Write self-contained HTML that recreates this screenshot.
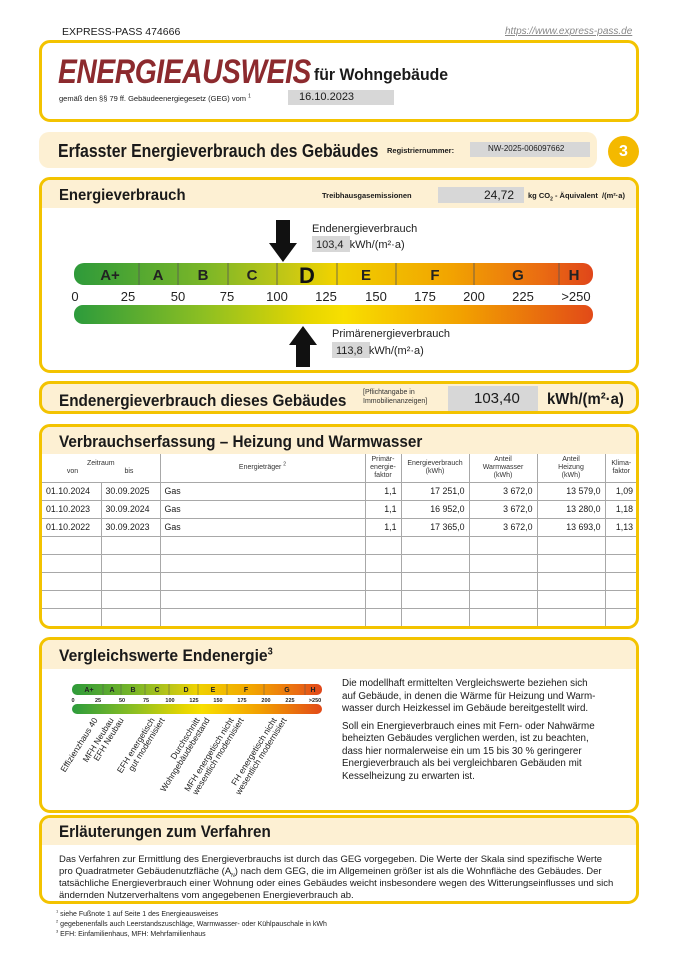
<!DOCTYPE html>
<html><head><meta charset="utf-8">
<style>
*{margin:0;padding:0;box-sizing:border-box}
body{width:679px;height:960px;background:#fff;font-family:"Liberation Sans",Arial,sans-serif;color:#1a1a1a;position:relative;overflow:hidden}
.a{position:absolute;white-space:nowrap}
.box{position:absolute;border:3px solid #f3c300;border-radius:11px;background:#fff;overflow:hidden}
.band{position:absolute;left:0;right:0;top:0;background:#fdf0d3}
.h{font-weight:bold;font-size:17px;transform:scaleX(0.93);transform-origin:left top}
.gray{position:absolute;background:#d7d7d7}
table{border-collapse:collapse;position:absolute;left:0;top:27px;width:595px;font-size:8.8px}
td{border:1px solid #a8a8a8;height:18px;padding:0 4px}
td.r{text-align:right}
.hd td{font-size:7px;text-align:center;vertical-align:middle;line-height:8px;color:#333}
sub,sup{line-height:0}
</style></head><body>
<div class="a" style="left:62px;top:26px;font-size:10.5px">EXPRESS-PASS 474666</div>
<div class="a" style="left:505px;top:26px;font-size:10px;color:#888;font-style:italic;text-decoration:underline">https://www.express-pass.de</div>

<div class="box" style="left:39px;top:40px;width:600px;height:82px">
 <div class="a" style="left:16px;top:10px;font-size:34px;font-weight:bold;font-style:italic;color:#8c2a2e;transform:scaleX(0.83);transform-origin:left top;letter-spacing:-0.5px">ENERGIEAUSWEIS</div>
 <div class="a" style="left:272px;top:22px;font-size:17px;font-weight:bold;transform:scaleX(0.93);transform-origin:left top">für Wohngebäude</div>
 <div class="a" style="left:17px;top:51px;font-size:7.5px">gemäß den §§ 79 ff. Gebäudeenergiegesetz (GEG) vom <sup style="font-size:5px">1</sup></div>
 <div class="gray" style="left:246px;top:47px;width:106px;height:15px"></div>
 <div class="a" style="left:257px;top:48px;font-size:11px">16.10.2023</div>
</div>

<div class="a" style="left:39px;top:132px;width:558px;height:36px;background:#fdf0d3;border-radius:10px"></div>
<div class="a h" style="left:58px;top:141px;font-size:18px;transform:scaleX(0.88)">Erfasster Energieverbrauch des Gebäudes</div>
<div class="a" style="left:387px;top:146px;font-size:7.5px;font-weight:bold">Registriernummer:</div>
<div class="gray" style="left:470px;top:142px;width:120px;height:15px"></div>
<div class="a" style="left:488px;top:144px;font-size:8px">NW-2025-006097662</div>
<div class="a" style="left:608px;top:136px;width:31px;height:31px;border-radius:50%;background:#f4b900;color:#fff;font-weight:bold;font-size:16px;text-align:center;line-height:31px">3</div>

<div class="box" style="left:39px;top:177px;width:600px;height:196px">
 <div class="band" style="height:28px"></div>
 <div class="a h" style="left:17px;top:7px;font-size:16px">Energieverbrauch</div>
 <div class="a" style="left:280px;top:11px;font-size:7.5px;font-weight:bold">Treibhausgasemissionen</div>
 <div class="gray" style="left:396px;top:7px;width:86px;height:16px"></div>
 <div class="a" style="left:442px;top:8px;font-size:12px">24,72</div>
 <div class="a" style="left:486px;top:11px;font-size:7.5px;font-weight:bold">kg CO<sub style="font-size:5px">2</sub> - Äquivalent &nbsp;/(m²·a)</div>
</div>
<svg class="a" style="left:0;top:0" width="679" height="420">
 <defs>
  <linearGradient id="g" x1="0" x2="1">
   <stop offset="0" stop-color="#2c9b3c"/><stop offset="0.25" stop-color="#8dbf22"/><stop offset="0.45" stop-color="#e6d600"/><stop offset="0.52" stop-color="#f8df00"/><stop offset="0.75" stop-color="#f2a000"/><stop offset="1" stop-color="#e24a18"/>
  </linearGradient>
  <linearGradient id="g2" x1="0" x2="1">
   <stop offset="0" stop-color="#2e9a3a"/><stop offset="0.25" stop-color="#7ab628"/><stop offset="0.42" stop-color="#c8c814"/><stop offset="0.5" stop-color="#f0d200"/><stop offset="0.72" stop-color="#f2a500"/><stop offset="0.9" stop-color="#ea6c12"/><stop offset="1" stop-color="#e0461a"/>
  </linearGradient>
 </defs>
 <rect x="74" y="263" width="519" height="22" rx="10" fill="url(#g2)"/>
 <g stroke="#555" stroke-width="0.8">
  <line x1="139" y1="263" x2="139" y2="285"/><line x1="178" y1="263" x2="178" y2="285"/><line x1="228" y1="263" x2="228" y2="285"/><line x1="277" y1="263" x2="277" y2="285"/><line x1="337" y1="263" x2="337" y2="285"/><line x1="396" y1="263" x2="396" y2="285"/><line x1="474" y1="263" x2="474" y2="285"/><line x1="559" y1="263" x2="559" y2="285"/>
 </g>
 <g font-family="Liberation Sans" font-weight="bold" font-size="15" fill="#222" text-anchor="middle">
  <text x="110" y="280">A+</text><text x="158" y="280">A</text><text x="203" y="280">B</text><text x="252" y="280">C</text><text x="307" y="283" font-size="22" fill="#111">D</text><text x="366" y="280">E</text><text x="435" y="280">F</text><text x="518" y="280">G</text><text x="574" y="280">H</text>
 </g>
 <g font-family="Liberation Sans" font-size="13" fill="#222" text-anchor="middle">
  <text x="75" y="301">0</text><text x="128" y="301">25</text><text x="178" y="301">50</text><text x="227" y="301">75</text><text x="277" y="301">100</text><text x="326" y="301">125</text><text x="376" y="301">150</text><text x="425" y="301">175</text><text x="474" y="301">200</text><text x="523" y="301">225</text><text x="576" y="301">&gt;250</text>
 </g>
 <rect x="74" y="305" width="519" height="19" rx="9" fill="url(#g)"/>
 <polygon points="276,220 290,220 290,243 297,243 283,262 269,243 276,243" fill="#111"/>
 <polygon points="296,367 310,367 310,345 317,345 303,326 289,345 296,345" fill="#111"/>
 <text x="312" y="232" font-family="Liberation Sans" font-size="11" fill="#222">Endenergieverbrauch</text>
 <rect x="312" y="236" width="38" height="16" fill="#d7d7d7"/>
 <text x="316" y="248" font-family="Liberation Sans" font-size="11" fill="#222">103,4 &#160;kWh/(m²·a)</text>
 <text x="332" y="337" font-family="Liberation Sans" font-size="11" fill="#222">Primärenergieverbrauch</text>
 <rect x="332" y="342" width="38" height="16" fill="#d7d7d7"/>
 <text x="336" y="354" font-family="Liberation Sans" font-size="11" fill="#222">113,8 &#160;kWh/(m²·a)</text>
</svg>

<div class="box" style="left:39px;top:381px;width:600px;height:33px;background:#fdf0d3">
 <div class="a h" style="left:17px;top:7px;font-size:17px;transform:scaleX(0.9)">Endenergieverbrauch dieses Gebäudes</div>
 <div class="a" style="left:321px;top:4px;font-size:7px;line-height:9px;color:#333">[Pflichtangabe in<br>Immobilienanzeigen]</div>
 <div class="gray" style="left:406px;top:2px;width:90px;height:25px"></div>
 <div class="a" style="left:432px;top:6px;font-size:15px">103,40</div>
 <div class="a h" style="left:505px;top:7px;font-size:16px">kWh/(m²·a)</div>
</div>

<div class="box" style="left:39px;top:424px;width:600px;height:205px">
 <div class="band" style="height:27px"></div>
 <div class="a h" style="left:17px;top:5px;font-size:17px;transform:scaleX(0.9)">Verbrauchserfassung – Heizung und Warmwasser</div>
 <table>
  <colgroup><col style="width:59px"><col style="width:59px"><col style="width:205px"><col style="width:36px"><col style="width:68px"><col style="width:68px"><col style="width:68px"><col style="width:32px"></colgroup>
  <tr class="hd"><td colspan="2" style="height:28px;border-left:none;border-top:none;padding:0">Zeitraum<br><span style="display:inline-block;width:48%">von</span><span style="display:inline-block;width:48%">bis</span></td><td style="border-top:none">Energieträger <sup style="font-size:5px">2</sup></td><td style="border-top:none;padding:0">Primär-<br>energie-<br>faktor</td><td style="border-top:none;padding:0">Energieverbrauch<br>(kWh)</td><td style="border-top:none;padding:0">Anteil<br>Warmwasser<br>(kWh)</td><td style="border-top:none;padding:0">Anteil<br>Heizung<br>(kWh)</td><td style="border-top:none;border-right:none;padding:0">Klima-<br>faktor</td></tr>
  <tr><td style="border-left:none">01.10.2024</td><td>30.09.2025</td><td>Gas</td><td class="r">1,1</td><td class="r">17 251,0</td><td class="r">3 672,0</td><td class="r">13 579,0</td><td class="r" style="border-right:none">1,09</td></tr>
  <tr><td style="border-left:none">01.10.2023</td><td>30.09.2024</td><td>Gas</td><td class="r">1,1</td><td class="r">16 952,0</td><td class="r">3 672,0</td><td class="r">13 280,0</td><td class="r" style="border-right:none">1,18</td></tr>
  <tr><td style="border-left:none">01.10.2022</td><td>30.09.2023</td><td>Gas</td><td class="r">1,1</td><td class="r">17 365,0</td><td class="r">3 672,0</td><td class="r">13 693,0</td><td class="r" style="border-right:none">1,13</td></tr>
  <tr><td style="border-left:none"></td><td></td><td></td><td></td><td></td><td></td><td></td><td style="border-right:none"></td></tr>
  <tr><td style="border-left:none"></td><td></td><td></td><td></td><td></td><td></td><td></td><td style="border-right:none"></td></tr>
  <tr><td style="border-left:none"></td><td></td><td></td><td></td><td></td><td></td><td></td><td style="border-right:none"></td></tr>
  <tr><td style="border-left:none"></td><td></td><td></td><td></td><td></td><td></td><td></td><td style="border-right:none"></td></tr>
  <tr><td style="border-left:none;border-bottom:none"></td><td style="border-bottom:none"></td><td style="border-bottom:none"></td><td style="border-bottom:none"></td><td style="border-bottom:none"></td><td style="border-bottom:none"></td><td style="border-bottom:none"></td><td style="border-right:none;border-bottom:none"></td></tr>
 </table>
</div>

<div class="box" style="left:39px;top:637px;width:600px;height:176px">
 <div class="band" style="height:29px"></div>
 <div class="a h" style="left:17px;top:6px;font-size:17px;transform:scaleX(0.92)">Vergleichswerte Endenergie<sup style="font-size:10px">3</sup></div>
 <div class="a" style="left:300px;top:38px;font-size:9.8px;line-height:12.5px;white-space:normal;width:300px">Die modellhaft ermittelten Vergleichswerte beziehen sich<br>auf Gebäude, in denen die Wärme für Heizung und Warm-<br>wasser durch Heizkessel im Gebäude bereitgestellt wird.<div style="height:5px"></div>Soll ein Energieverbrauch eines mit Fern- oder Nahwärme<br>beheizten Gebäudes verglichen werden, ist zu beachten,<br>dass hier normalerweise ein um 15 bis 30 % geringerer<br>Energieverbrauch als bei vergleichbaren Gebäuden mit<br>Kesselheizung zu erwarten ist.</div>
</div>
<svg class="a" style="left:0;top:0" width="340" height="812">
 <rect x="72" y="684" width="250" height="11" rx="5" fill="url(#g2)"/>
 <g stroke="#555" stroke-width="0.5">
  <line x1="103" y1="684" x2="103" y2="695"/><line x1="121" y1="684" x2="121" y2="695"/><line x1="145" y1="684" x2="145" y2="695"/><line x1="169" y1="684" x2="169" y2="695"/><line x1="198" y1="684" x2="198" y2="695"/><line x1="227" y1="684" x2="227" y2="695"/><line x1="264" y1="684" x2="264" y2="695"/><line x1="305" y1="684" x2="305" y2="695"/>
 </g>
 <g font-family="Liberation Sans" font-weight="bold" font-size="7" fill="#222" text-anchor="middle">
  <text x="89" y="692">A+</text><text x="112" y="692">A</text><text x="133" y="692">B</text><text x="157" y="692">C</text><text x="186" y="692">D</text><text x="213" y="692">E</text><text x="246" y="692">F</text><text x="287" y="692">G</text><text x="313" y="692">H</text>
  <g font-size="5.5"><text x="73" y="702">0</text><text x="98" y="702">25</text><text x="122" y="702">50</text><text x="146" y="702">75</text><text x="170" y="702">100</text><text x="194" y="702">125</text><text x="218" y="702">150</text><text x="242" y="702">175</text><text x="266" y="702">200</text><text x="290" y="702">225</text><text x="315" y="702">&gt;250</text></g>
 </g>
 <rect x="72" y="704" width="250" height="10" rx="5" fill="url(#g)"/>
 <g font-family="Liberation Sans" font-size="8.5" fill="#222" text-anchor="end">
  <text transform="translate(98,720) rotate(-58)">Effizienzhaus 40</text>
  <text transform="translate(114,720) rotate(-58)">MFH Neubau</text>
  <text transform="translate(124,720) rotate(-58)">EFH Neubau</text>
  <text transform="translate(155,720) rotate(-58)">EFH energetisch</text>
  <text transform="translate(165,720) rotate(-58)">gut modernisiert</text>
  <text transform="translate(200,720) rotate(-58)">Durchschnitt</text>
  <text transform="translate(210,720) rotate(-58)">Wohngebäudebestand</text>
  <text transform="translate(234,720) rotate(-58)">MFH energetisch nicht</text>
  <text transform="translate(244,720) rotate(-58)">wesentlich modernisiert</text>
  <text transform="translate(277,720) rotate(-58)">FH energetisch nicht</text>
  <text transform="translate(287,720) rotate(-58)">wesentlich modernisiert</text>
 </g>
</svg>

<div class="box" style="left:39px;top:815px;width:600px;height:89px">
 <div class="band" style="height:27px"></div>
 <div class="a h" style="left:17px;top:5px;font-size:16.5px;transform:scaleX(0.92)">Erläuterungen zum Verfahren</div>
 <div class="a" style="left:17px;top:36px;font-size:9.5px;line-height:12px">Das Verfahren zur Ermittlung des Energieverbrauchs ist durch das GEG vorgegeben. Die Werte der Skala sind spezifische Werte<br>pro Quadratmeter Gebäudenutzfläche (A<sub style="font-size:5px">N</sub>) nach dem GEG, die im Allgemeinen größer ist als die Wohnfläche des Gebäudes. Der<br>tatsächliche Energieverbrauch einer Wohnung oder eines Gebäudes weicht insbesondere wegen des Witterungseinflusses und sich<br>ändernden Nutzerverhaltens vom angegebenen Energieverbrauch ab.</div>
</div>
<div class="a" style="left:56px;top:910px;font-size:7px;line-height:10px;color:#222"><sup style="font-size:4px">1</sup> siehe Fußnote 1 auf Seite 1 des Energieausweises<br><sup style="font-size:4px">2</sup> gegebenenfalls auch Leerstandszuschläge, Warmwasser- oder Kühlpauschale in kWh<br><sup style="font-size:4px">3</sup> EFH: Einfamilienhaus, MFH: Mehrfamilienhaus</div>
</body></html>
